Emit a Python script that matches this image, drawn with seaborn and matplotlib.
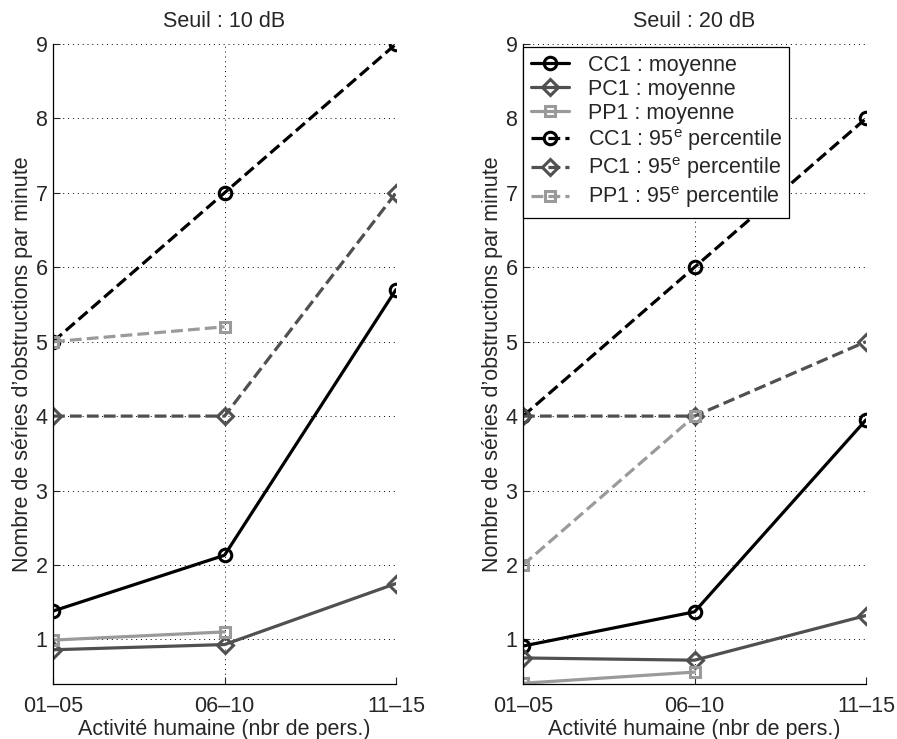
import seaborn as sns
import matplotlib.pyplot as plt
import pandas as pd

sns.set_style('white')
plt.rcParams['font.family'] = ['Liberation Sans', 'DejaVu Sans']
plt.rcParams['mathtext.fontset'] = 'custom'
plt.rcParams['mathtext.rm'] = 'Liberation Sans'
plt.rcParams['mathtext.it'] = 'Liberation Sans'

FS = 15.5

categories = ['01\u201305', '06\u201310', '11\u201315']

# Seuil : 10 dB
cc1_moy_10 = [1.38, 2.13, 5.70]
pc1_moy_10 = [0.86, 0.93, 1.75]
pp1_moy_10 = [0.99, 1.10]
cc1_p95_10 = [5, 7, 9]
pc1_p95_10 = [4, 4, 7]
pp1_p95_10 = [5, 5.2]

# Seuil : 20 dB
cc1_moy_20 = [0.91, 1.37, 3.95]
pc1_moy_20 = [0.75, 0.72, 1.32]
pp1_moy_20 = [0.41, 0.56]
cc1_p95_20 = [4, 6, 8]
pc1_p95_20 = [4, 4, 5]
pp1_p95_20 = [2, 4]

titles = ['Seuil : 10 dB', 'Seuil : 20 dB']
labels = ['CC1 : moyenne', 'PC1 : moyenne', 'PP1 : moyenne',
          r'CC1 : 95$^{\mathrm{e}}$ percentile',
          r'PC1 : 95$^{\mathrm{e}}$ percentile',
          r'PP1 : 95$^{\mathrm{e}}$ percentile']

black, dark, light = '#000000', '#505050', '#9a9a9a'
styles = [
  (black, 'o', 9, '-'),
  (dark, 'D', 8, '-'),
  (light, 's', 6.5, '-'),
  (black, 'o', 9, '--'),
  (dark, 'D', 8, '--'),
  (light, 's', 6.5, '--'),
]

panels = [
  [cc1_moy_10, pc1_moy_10, pp1_moy_10, cc1_p95_10, pc1_p95_10, pp1_p95_10],
  [cc1_moy_20, pc1_moy_20, pp1_moy_20, cc1_p95_20, pc1_p95_20, pp1_p95_20],
]

fig = plt.figure(figsize=(8.97, 7.39), dpi=100)
lefts = [53 / 897, 523 / 897]

for k, series in enumerate(panels):
  ax = fig.add_axes([lefts[k], 1 - 684 / 739, 343 / 897, 640 / 739])
  for (color, marker, ms, ls), vals, lab in zip(styles, series, labels):
    df = pd.DataFrame({'x': list(range(len(vals))), 'y': vals})
    sns.lineplot(data=df, x='x', y='y', ax=ax, color=color, linestyle=ls,
                 linewidth=2.3, marker=marker, markersize=ms,
                 markerfacecolor='none', markeredgecolor=color,
                 markeredgewidth=2.2, label=lab, legend=False)
  ax.set_xlim(0, 2)
  ax.set_ylim(0.4, 9)
  ax.set_xticks(range(len(categories)))
  ax.set_xticklabels(categories)
  ax.set_yticks(range(1, 10))
  ax.tick_params(direction='in', labelsize=FS, length=5, width=0.8, pad=4,
                 bottom=True, left=True)
  ax.tick_params(axis='x', pad=9)
  ax.grid(True, linestyle=(0, (1, 4)), color='black', linewidth=0.7)
  for s in ['top', 'right']:
    ax.spines[s].set_visible(False)
  for s in ['left', 'bottom']:
    ax.spines[s].set_color('black')
    ax.spines[s].set_linewidth(0.9)
  ax.set_title(titles[k], fontsize=FS, pad=12)
  ax.set_xlabel('Activit\u00e9 humaine (nbr de pers.)', fontsize=FS, labelpad=1)
  ax.set_ylabel('Nombre de s\u00e9ries d\u2019obstructions par minute',
                fontsize=FS, labelpad=2)
  if k == 1:
    leg = ax.legend(loc='upper left', bbox_to_anchor=(0, 0.995),
                    borderaxespad=0, fontsize=FS, frameon=True, fancybox=False,
                    edgecolor='black', framealpha=1, labelspacing=0.14,
                    handlelength=1.8, handletextpad=0.85, borderpad=0.35)
    leg.get_frame().set_linewidth(0.9)

fig.savefig('out.png', dpi=100)
